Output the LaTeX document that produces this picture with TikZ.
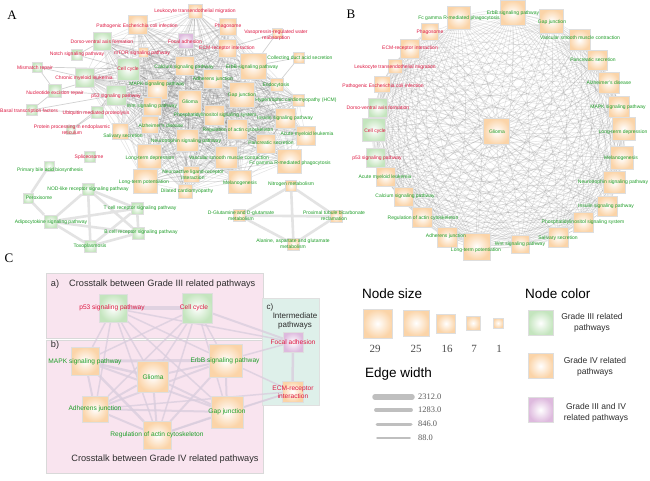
\documentclass[tikz,border=0pt]{standalone}
\usepackage{fontspec}
\setmainfont{Liberation Serif}
\setsansfont{Liberation Sans}
\definecolor{orO}{RGB}{251,212,168}
\definecolor{grO}{RGB}{196,229,190}
\definecolor{puO}{RGB}{222,186,222}
\definecolor{redT}{RGB}{222,24,66}
\definecolor{grT}{RGB}{30,158,40}
\definecolor{pinkbg}{RGB}{249,228,239}
\definecolor{tealbg}{RGB}{222,240,234}
\definecolor{lavE}{RGB}{218,206,222}
\definecolor{ttl}{RGB}{45,45,45}
\pgfdeclarelayer{bg}
\pgfdeclarelayer{edges}
\pgfdeclarelayer{fg}
\pgfsetlayers{bg,edges,main,fg}
\tikzset{
 box/.style={rectangle, inner sep=0pt, draw=black!13, line width=0.4pt, shading=radial, inner color=white},
 obox/.style={box, outer color=orO},
 gbox/.style={box, outer color=grO},
 pbox/.style={box, outer color=puO},
 lab/.style={font=\sffamily\fontsize{5}{6.2}\selectfont, inner sep=0pt, align=center},
 rl/.style={lab, text=redT},
 gl/.style={lab, text=grT},
 clab/.style={font=\sffamily\fontsize{6.6}{8}\selectfont, inner sep=0pt, align=center},
 crl/.style={clab, text=redT},
 cgl/.style={clab, text=grT},
 meshA/.style={draw=black!50, line width=0.6pt, opacity=0.2},
 meshB/.style={draw=black!50, line width=0.6pt, opacity=0.2},
 peri/.style={draw=black!40, line width=0.7pt, opacity=0.45},
 thickA/.style={draw=black!11, line width=2.6pt},
 cedge/.style={draw=lavE, opacity=0.8},
 panel/.style={font=\rmfamily\fontsize{13}{13}\selectfont, inner sep=0pt},
 ctitle/.style={font=\sffamily\fontsize{9.2}{11}\selectfont, text=ttl, inner sep=0pt},
 csub/.style={font=\sffamily\fontsize{8}{9.6}\selectfont, text=ttl, inner sep=0pt, align=center},
 lhead/.style={font=\sffamily\fontsize{13.5}{14}\selectfont, text=black, inner sep=0pt, anchor=west},
 ltext/.style={font=\sffamily\fontsize{8.5}{11}\selectfont, text=ttl, inner sep=0pt, align=center},
 lnum/.style={font=\rmfamily\fontsize{11}{11}\selectfont, text=black!70, inner sep=0pt},
 enum/.style={font=\rmfamily\fontsize{8.4}{9}\selectfont, text=black!65, inner sep=0pt, anchor=west},
 ewline/.style={draw=black!25, line cap=round}
}
\newcommand{\PN}[8]{%
  \node[#2, minimum size=#5pt] (#1) at (#3,#4) {};
  \begin{pgfonlayer}{fg}\node[#6] (#1t) at (#7) {#8};\end{pgfonlayer}}
\def\coreA{calcium,erbb,adherens,mapk,glioma,gap,phos,insulin,regact,aml,pancr,vsmc,fcg,ltp,neuroact,melano,wnt,alz,neuro,ltd,salivary,focal,ecm,cellcyc,p53,chronic,mtor,phago,leuko,patho,dorso,endo,hcm,dcm}
\def\coreB{fcgB,erbbB,gapB,vsmcB,pancB,alzB,mapkB,ltdB,melB,neuroB,insB,phosB,salB,wntB,ltpB,adhB,regB,calB,amlB,p53B,ccB,dorsoB,pathoB,leukoB,ecmB,phagoB,gliomaB}
\begin{document}
\begin{tikzpicture}[x=1pt,y=-1pt]
\useasboundingbox (0,0) rectangle (650,480);
\begin{pgfonlayer}{bg}
\fill[white] (0,0) rectangle (650,480);
\draw[fill=pinkbg, draw=black!15, line width=0.7pt] (46,273) rectangle (263,338);
\draw[fill=pinkbg, draw=black!15, line width=0.7pt] (46,340) rectangle (263,473);
\draw[fill=tealbg, draw=black!12, line width=0.7pt] (262,298) rectangle (319,405);
\end{pgfonlayer}

% ---------------- Panel A ----------------
\node[panel] (labA) at (12,15) {A};
\PN{patho}{obox}{137.5}{24.5}{19}{rl}{137,26}{Pathogenic Escherichia coli infection}
\PN{leuko}{obox}{195}{11}{14}{rl}{195,11}{Leukocyte transendothelial migration}
\PN{phago}{obox}{227.5}{26.5}{17}{rl}{228,26}{Phagosome}
\PN{vaso}{obox}{277}{33}{10}{rl}{276,35.5}{Vasopressin-regulated water\\reabsorption}
\PN{focal}{pbox}{185.5}{41}{15}{rl}{185,42}{Focal adhesion}
\PN{ecm}{obox}{227.5}{48}{18}{rl}{227,48}{ECM-receptor interaction}
\PN{collect}{obox}{299}{57.5}{11}{gl}{300,58}{Collecting duct acid secretion}
\PN{erbb}{obox}{253}{66}{26}{gl}{252,67}{ErbB signaling pathway}
\PN{adherens}{obox}{213}{79}{19}{gl}{213,79}{Adherens junction}
\PN{endo}{obox}{276.5}{85}{13}{gl}{276,85}{Endocytosis}
\PN{calcium}{obox}{185}{66}{19}{gl}{184,67}{Calcium signaling pathway}
\PN{dorso}{gbox}{102}{41}{18}{rl}{102,42}{Dorso-ventral axis formation}
\PN{notch}{gbox}{77}{55}{11}{rl}{77,54}{Notch signaling pathway}
\PN{mtor}{obox}{143}{52.5}{10}{rl}{142,53}{mTOR signaling pathway}
\PN{mismatch}{gbox}{37.5}{67}{10}{rl}{35,68}{Mismatch repair}
\PN{cellcyc}{gbox}{128}{69}{22}{rl}{128,69}{Cell cycle}
\PN{chronic}{gbox}{84.5}{77.5}{19}{rl}{84,78}{Chronic myeloid leukemia}
\PN{mapk}{obox}{157}{89}{20}{gl}{157,84}{MAPK signaling pathway}
\PN{nucleo}{gbox}{55}{91}{13}{rl}{55,93}{Nucleotide excision repair}
\PN{p53}{gbox}{116}{95}{20}{rl}{116,96}{p53 signaling pathway}
\PN{basal}{gbox}{31.5}{110}{11}{rl}{29,111}{Basal transcription factors}
\PN{ubiq}{gbox}{97}{112.5}{12}{rl}{96,113}{Ubiquitin mediated proteolysis}
\PN{protein}{gbox}{71}{130}{9}{rl}{72,130}{Protein processing in endoplasmic\\reticulum}
\PN{salivary}{obox}{120.5}{131.5}{16}{gl}{123,136}{Salivary secretion}
\PN{splice}{gbox}{89.5}{156.5}{11}{rl}{89,157}{Spliceosome}
\PN{wnt}{obox}{152.5}{106}{18}{gl}{152,106}{Wnt signaling pathway}
\PN{alz}{obox}{150}{125}{17}{gl}{161,126}{Alzheimer's disease}
\PN{neuro}{obox}{187.5}{140.5}{22}{gl}{186,141}{Neurotrophin signaling pathway}
\PN{ltd}{obox}{149.5}{156.5}{24}{gl}{150,158}{Long-term depression}
\PN{glioma}{obox}{190}{101.5}{23}{gl}{190,102}{Glioma}
\PN{gap}{obox}{242}{95}{25}{gl}{242,95}{Gap junction}
\PN{hcm}{obox}{298.5}{100}{12}{gl}{296,100}{Hypertrophic cardiomyopathy (HCM)}
\PN{phos}{obox}{214}{115.5}{20}{gl}{215,115}{Phosphatidylinositol signaling system}
\PN{insulin}{obox}{285}{118}{20}{gl}{285,118}{Insulin signaling pathway}
\PN{regact}{obox}{237.5}{129.5}{20}{gl}{238,130}{Regulation of actin cytoskeleton}
\PN{aml}{obox}{305.5}{136}{19}{gl}{307,134}{Acute myeloid leukemia}
\PN{pancr}{obox}{266}{144}{19}{gl}{271,143}{Pancreatic secretion}
\PN{vsmc}{obox}{226.5}{157}{22}{gl}{229,158}{Vascular smooth muscle contraction}
\PN{fcg}{obox}{289.5}{161}{24}{gl}{290,163}{Fc gamma R-mediated phagocytosis}
\PN{ltp}{obox}{145}{181.5}{24}{gl}{144,182}{Long-term potentiation}
\PN{neuroact}{obox}{191.5}{174.5}{16}{gl}{193,175}{Neuroactive ligand-receptor\\interaction}
\PN{dcm}{obox}{185}{191}{14}{gl}{187,191}{Dilated cardiomyopathy}
\PN{melano}{obox}{240}{181.5}{23}{gl}{240,183}{Melanogenesis}
\PN{nitro}{obox}{291}{186}{11}{gl}{291,184}{Nitrogen metabolism}
\PN{dglu}{obox}{239.5}{215.5}{12}{gl}{241,215.5}{D-Glutamine and D-glutamate\\metabolism}
\PN{prox}{obox}{336}{216.5}{12}{gl}{334,216}{Proximal tubule bicarbonate\\reclamation}
\PN{ala}{obox}{293.5}{244}{12}{gl}{293,244}{Alanine, aspartate and glutamate\\metabolism}
\PN{bile}{gbox}{49}{166}{10}{gl}{50,170}{Primary bile acid biosynthesis}
\PN{nod}{gbox}{88}{189}{12}{gl}{88,189}{NOD-like receptor signaling pathway}
\PN{perox}{gbox}{28}{198}{10}{gl}{39,198}{Peroxisome}
\PN{tcell}{gbox}{137}{208.5}{12}{gl}{140,208}{T cell receptor signaling pathway}
\PN{adipo}{gbox}{50.5}{221.5}{13}{gl}{51,222}{Adipocytokine signaling pathway}
\PN{bcell}{gbox}{138.5}{233}{12}{gl}{141,232}{B cell receptor signaling pathway}
\PN{toxo}{gbox}{90.5}{246}{12}{gl}{90,246}{Toxoplasmosis}

\begin{pgfonlayer}{edges}
\foreach \a [count=\i] in \coreA {
  \foreach \b [count=\j] in \coreA {
    \ifnum\j>\i\relax \draw[meshA] (\a) -- (\b); \fi }}
\foreach \a/\b in {mismatch/cellcyc, mismatch/chronic, mismatch/nucleo, notch/dorso, notch/cellcyc,
  nucleo/p53, nucleo/cellcyc, nucleo/basal, basal/ubiq, basal/p53, ubiq/p53, ubiq/cellcyc,
  ubiq/protein, protein/p53, vaso/erbb, vaso/ecm, collect/erbb, collect/endo, chronic/mapk}
  {\draw[peri] (\a) -- (\b);}
\foreach \a/\b in {bile/perox, perox/adipo, adipo/nod, adipo/toxo, adipo/tcell, adipo/bcell,
  nod/toxo, nod/tcell, nod/bcell, tcell/bcell, tcell/toxo, bcell/toxo,
  nitro/dglu, nitro/ala, nitro/prox, dglu/ala, dglu/prox, ala/prox}
  {\draw[thickA] (\a) -- (\b);}
\end{pgfonlayer}

% ---------------- Panel B ----------------
\node[panel] (labB) at (351,14) {B};
\PN{fcgB}{obox}{458.5}{17.5}{23}{gl}{459,18}{Fc gamma R-mediated phagocytosis}
\PN{erbbB}{obox}{512.5}{13}{25}{gl}{513,13}{ErbB signaling pathway}
\PN{gapB}{obox}{551.5}{21}{24}{gl}{552,22}{Gap junction}
\PN{vsmcB}{obox}{579.5}{40}{21}{gl}{580,38}{Vascular smooth muscle contraction}
\PN{pancB}{obox}{597}{60}{20}{gl}{593,60}{Pancreatic secretion}
\PN{alzB}{obox}{608.5}{82.5}{21}{gl}{609,83}{Alzheimer's disease}
\PN{mapkB}{obox}{618.5}{107}{21}{gl}{618,107}{MAPK signaling pathway}
\PN{ltdB}{obox}{623.5}{129}{23}{gl}{623,132}{Long-term depression}
\PN{melB}{obox}{621.5}{158}{23}{gl}{621,158}{Melanogenesis}
\PN{neuroB}{obox}{614}{182.5}{22}{gl}{613,182}{Neurotrophin signaling pathway}
\PN{insB}{obox}{607}{206}{20}{gl}{606,206}{Insulin signaling pathway}
\PN{phosB}{obox}{583}{222}{20}{gl}{583,222}{Phosphatidylinositol signaling system}
\PN{salB}{obox}{558}{237}{20}{gl}{558,238}{Salivary secretion}
\PN{wntB}{obox}{520.5}{244}{18}{gl}{520,244}{Wnt signaling pathway}
\PN{ltpB}{obox}{476.5}{246.5}{27}{gl}{476,250}{Long-term potentiation}
\PN{adhB}{obox}{447.5}{237.5}{20}{gl}{446,236}{Adherens junction}
\PN{regB}{obox}{422.5}{217.5}{20}{gl}{423,218}{Regulation of actin cytoskeleton}
\PN{calB}{obox}{403.5}{196.5}{19}{gl}{405,196}{Calcium signaling pathway}
\PN{amlB}{obox}{385.5}{177}{19}{gl}{385,177}{Acute myeloid leukemia}
\PN{p53B}{gbox}{375.5}{157.5}{19}{rl}{377,158}{p53 signaling pathway}
\PN{ccB}{gbox}{374}{130}{23}{rl}{375,131}{Cell cycle}
\PN{dorsoB}{gbox}{377.5}{108}{19}{rl}{378,108}{Dorso-ventral axis formation}
\PN{pathoB}{obox}{382}{84}{16}{rl}{383,86}{Pathogenic Escherichia coli infection}
\PN{leukoB}{obox}{395.5}{66.5}{14}{rl}{395,67}{Leukocyte transendothelial migration}
\PN{ecmB}{obox}{410}{48.5}{19}{rl}{410,48}{ECM-receptor interaction}
\PN{phagoB}{obox}{430}{31.5}{17}{rl}{430,32}{Phagosome}
\PN{gliomaB}{obox}{496.5}{131.5}{26}{gl}{497,132}{Glioma}
\begin{pgfonlayer}{edges}
\foreach \a [count=\i] in \coreB {
  \foreach \b [count=\j] in \coreB {
    \ifnum\j>\i\relax \draw[meshB] (\a) to[bend left=10] (\b); \fi }}
\end{pgfonlayer}

% ---------------- Panel C ----------------
\node[panel] (labC) at (9,258) {C};
\node[ctitle] (ta) at (55,284) {a)};
\node[ctitle, anchor=west] (tat) at (69,284) {Crosstalk between Grade III related pathways};
\node[ctitle] (tb) at (55,345) {b)};
\node[ctitle] (tbt) at (165,459) {Crosstalk between Grade IV related pathways};
\node[csub] (tc) at (270,307) {c)};
\node[csub] (tct) at (295,321) {Intermediate\\pathways};
\PN{p53C}{gbox}{113}{308}{28}{crl}{112,308}{p53 signaling pathway}
\PN{ccC}{gbox}{197}{308}{30}{crl}{194,308}{Cell cycle}
\PN{focalC}{pbox}{293}{342}{20}{crl}{293,342}{Focal adhesion}
\PN{ecmC}{obox}{292.5}{391.5}{21}{crl}{293,392}{ECM-receptor\\interaction}
\PN{mapkC}{obox}{85}{361}{28}{cgl}{85,362}{MAPK signaling pathway}
\PN{gliomaC}{obox}{152.5}{376.5}{31}{cgl}{153,377}{Glioma}
\PN{erbbC}{obox}{225.5}{360.5}{33}{cgl}{225,361}{ErbB signaling pathway}
\PN{adhC}{obox}{95}{409}{26}{cgl}{95,409}{Adherens junction}
\PN{gapC}{obox}{227}{412}{32}{cgl}{227,412}{Gap junction}
\PN{regC}{obox}{157.5}{435.5}{28}{cgl}{157,435}{Regulation of actin cytoskeleton}
\begin{pgfonlayer}{edges}
\draw[cedge, line width=3.5pt] (p53C) -- (ccC);
\foreach \a/\b/\w in {ccC/focalC/2, p53C/focalC/1.5,
  ccC/mapkC/1.5, ccC/gliomaC/1.5, ccC/erbbC/1.5, ccC/adhC/1.5, ccC/gapC/1.5, ccC/regC/1.5,
  p53C/mapkC/1.5, p53C/gliomaC/1.5, p53C/erbbC/1.5, p53C/adhC/1.5, p53C/gapC/1.5, p53C/regC/1.5,
  mapkC/erbbC/3, mapkC/gliomaC/2.5, mapkC/adhC/2, mapkC/gapC/2, mapkC/regC/2.5,
  gliomaC/erbbC/2, gliomaC/adhC/2, gliomaC/gapC/2, gliomaC/regC/2,
  erbbC/adhC/2, erbbC/gapC/2, erbbC/regC/2, erbbC/ecmC/1.5, erbbC/focalC/1.5,
  adhC/gapC/2, adhC/regC/2, adhC/ecmC/1.5, gapC/regC/2, gapC/ecmC/1.5, regC/ecmC/1.5,
  focalC/ecmC/2.5}
  {\draw[cedge, line width=\w pt] (\a) -- (\b);}
\end{pgfonlayer}

% ---------------- Legend ----------------
\node[lhead] (hns) at (362,294) {Node size};
\node[lhead] (hnc) at (525,294) {Node color};
\node[lhead] (hew) at (365,374) {Edge width};
\node[obox, minimum size=29pt] (s29) at (377.5,323.5) {};
\node[obox, minimum size=26pt] (s25) at (416,323) {};
\node[obox, minimum size=19pt] (s16) at (446,323.5) {};
\node[obox, minimum size=14pt] (s7) at (473,323) {};
\node[obox, minimum size=10pt] (s1) at (498,323) {};
\node[lnum] (n29) at (375,349) {29};
\node[lnum] (n25) at (416,349) {25};
\node[lnum] (n16) at (447,349) {16};
\node[lnum] (n7) at (474,349) {7};
\node[lnum] (n1) at (499,349) {1};
\coordinate (e1a) at (375,397); \coordinate (e1b) at (412,397);
\coordinate (e2a) at (376,410); \coordinate (e2b) at (411,410);
\coordinate (e3a) at (377,424); \coordinate (e3b) at (411,424);
\coordinate (e4a) at (377,438); \coordinate (e4b) at (410,438);
\draw[ewline, line width=5.5pt] (e1a) -- (e1b);
\draw[ewline, line width=3.8pt] (e2a) -- (e2b);
\draw[ewline, line width=3pt] (e3a) -- (e3b);
\draw[ewline, line width=1.5pt] (e4a) -- (e4b);
\node[enum] (w1) at (418,397) {2312.0};
\node[enum] (w2) at (418,410) {1283.0};
\node[enum] (w3) at (418,424) {846.0};
\node[enum] (w4) at (418,438) {88.0};
\node[gbox, minimum size=25pt] (cg) at (540.5,323) {};
\node[obox, minimum size=25pt] (co) at (540.5,366) {};
\node[pbox, minimum size=25pt] (cp) at (540.5,410) {};
\node[ltext] (cgt) at (592,322.5) {Grade III related\\pathways};
\node[ltext] (cot) at (595,366.5) {Grade IV related\\pathways};
\node[ltext] (cpt) at (596,412.5) {Grade III and IV\\related pathways};
\end{tikzpicture}
\end{document}
